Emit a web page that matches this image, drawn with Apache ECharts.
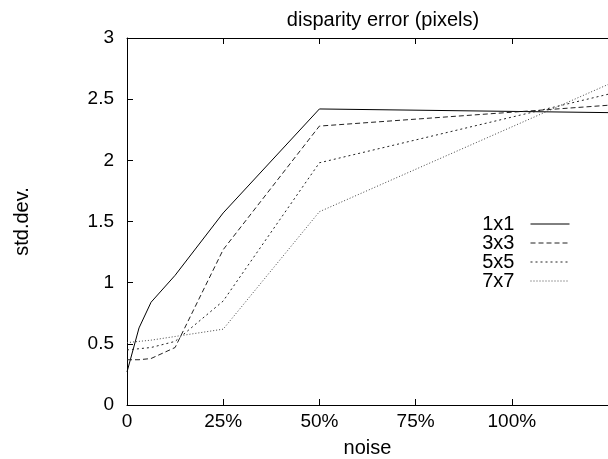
<!DOCTYPE html>
<html>
<head>
<meta charset="utf-8">
<script src="https://cdn.jsdelivr.net/npm/echarts@6/dist/echarts.min.js"></script>
<style>
  html, body { margin: 0; padding: 0; background: #fff; }
  #chart { width: 608px; height: 459px; }
</style>
</head>
<body>
<div id="chart"></div>
<script>
// noise level (%) on x, std.dev. of disparity error on y
var noiseLevels = [0, 3.125, 6.25, 12.5, 25, 50, 125]
var sd1x1 = [0.27, 0.63, 0.84, 1.06, 1.57, 2.42, 2.39]
var sd3x3 = [0.37, 0.37, 0.38, 0.47, 1.27, 2.28, 2.45]
var sd5x5 = [0.45, 0.46, 0.47, 0.52, 0.85, 1.98, 2.54]
var sd7x7 = [0.51, 0.52, 0.53, 0.56, 0.62, 1.58, 2.62]
var seriesNames = ['1x1', '3x3', '5x5', '7x7']
var xTicks = [0, 25, 50, 75, 100]

var font = 'Liberation Sans, Arial, sans-serif'

function pairs(ys) {
  return noiseLevels.map(function (x, i) { return [x, ys[i]] })
}

var styles = [
  { color: '#000', type: 'solid' },
  { color: '#222', type: [5, 3] },
  { color: '#222', type: [2, 3] },
  { color: '#444', type: [1, 2] }
]
var values = [sd1x1, sd3x3, sd5x5, sd7x7]

var chart = echarts.init(document.getElementById('chart'))
chart.setOption({
  animation: false,
  textStyle: { fontFamily: font },
  title: {
    text: 'disparity error (pixels)',
    left: 378,
    textAlign: 'center',
    top: 5,
    textStyle: { fontFamily: font, fontSize: 20, fontWeight: 'normal', color: '#000' }
  },
  grid: { left: 127, right: 0, top: 38, bottom: 54, containLabel: false, outerBoundsMode: 'none' },
  legend: {
    orient: 'vertical',
    right: 33,
    top: 209,
    align: 'right',
    itemWidth: 39,
    itemHeight: 14,
    itemGap: -1,
    formatter: '{name}  ',
    itemStyle: { opacity: 0 },
    lineStyle: { width: 1 },
    textStyle: { fontFamily: font, fontSize: 20, color: '#000' },
    data: seriesNames
  },
  xAxis: [{
    type: 'value',
    min: 0,
    max: 125,
    interval: 25,
    name: 'noise',
    nameLocation: 'middle',
    nameGap: 33,
    nameTextStyle: { fontFamily: font, fontSize: 20, color: '#000' },
    axisLine: { lineStyle: { color: '#000', width: 1 } },
    axisTick: { inside: true, length: 6, lineStyle: { color: '#000' } },
    axisLabel: {
      fontFamily: font, fontSize: 19, color: '#000', margin: 7,
      formatter: function (v) {
        if (xTicks.indexOf(v) < 0) return ''
        return v === 0 ? '0' : v + '%'
      }
    },
    splitLine: { show: false }
  }, {
    type: 'value',
    position: 'top',
    min: 0,
    max: 125,
    interval: 25,
    axisLine: { show: true, lineStyle: { color: '#000', width: 1 } },
    axisTick: { inside: true, length: 6, lineStyle: { color: '#000' } },
    axisLabel: { show: false },
    splitLine: { show: false }
  }],
  yAxis: {
    type: 'value',
    min: 0,
    max: 3,
    interval: 0.5,
    name: 'std.dev.',
    nameLocation: 'middle',
    nameGap: 95,
    nameRotate: 90,
    nameTextStyle: { fontFamily: font, fontSize: 20, color: '#000' },
    axisLine: { show: true, lineStyle: { color: '#000', width: 1 } },
    axisTick: { show: true, inside: true, length: 6, lineStyle: { color: '#000' } },
    axisLabel: { fontFamily: font, fontSize: 19, color: '#000', margin: 13 },
    splitLine: { show: false }
  },
  series: seriesNames.map(function (name, i) {
    return {
      name: name,
      type: 'line',
      symbol: 'none',
      showSymbol: false,
      data: pairs(values[i]),
      lineStyle: { width: 1, color: styles[i].color, type: styles[i].type },
      itemStyle: { color: styles[i].color }
    }
  })
})
</script>
</body>
</html>
